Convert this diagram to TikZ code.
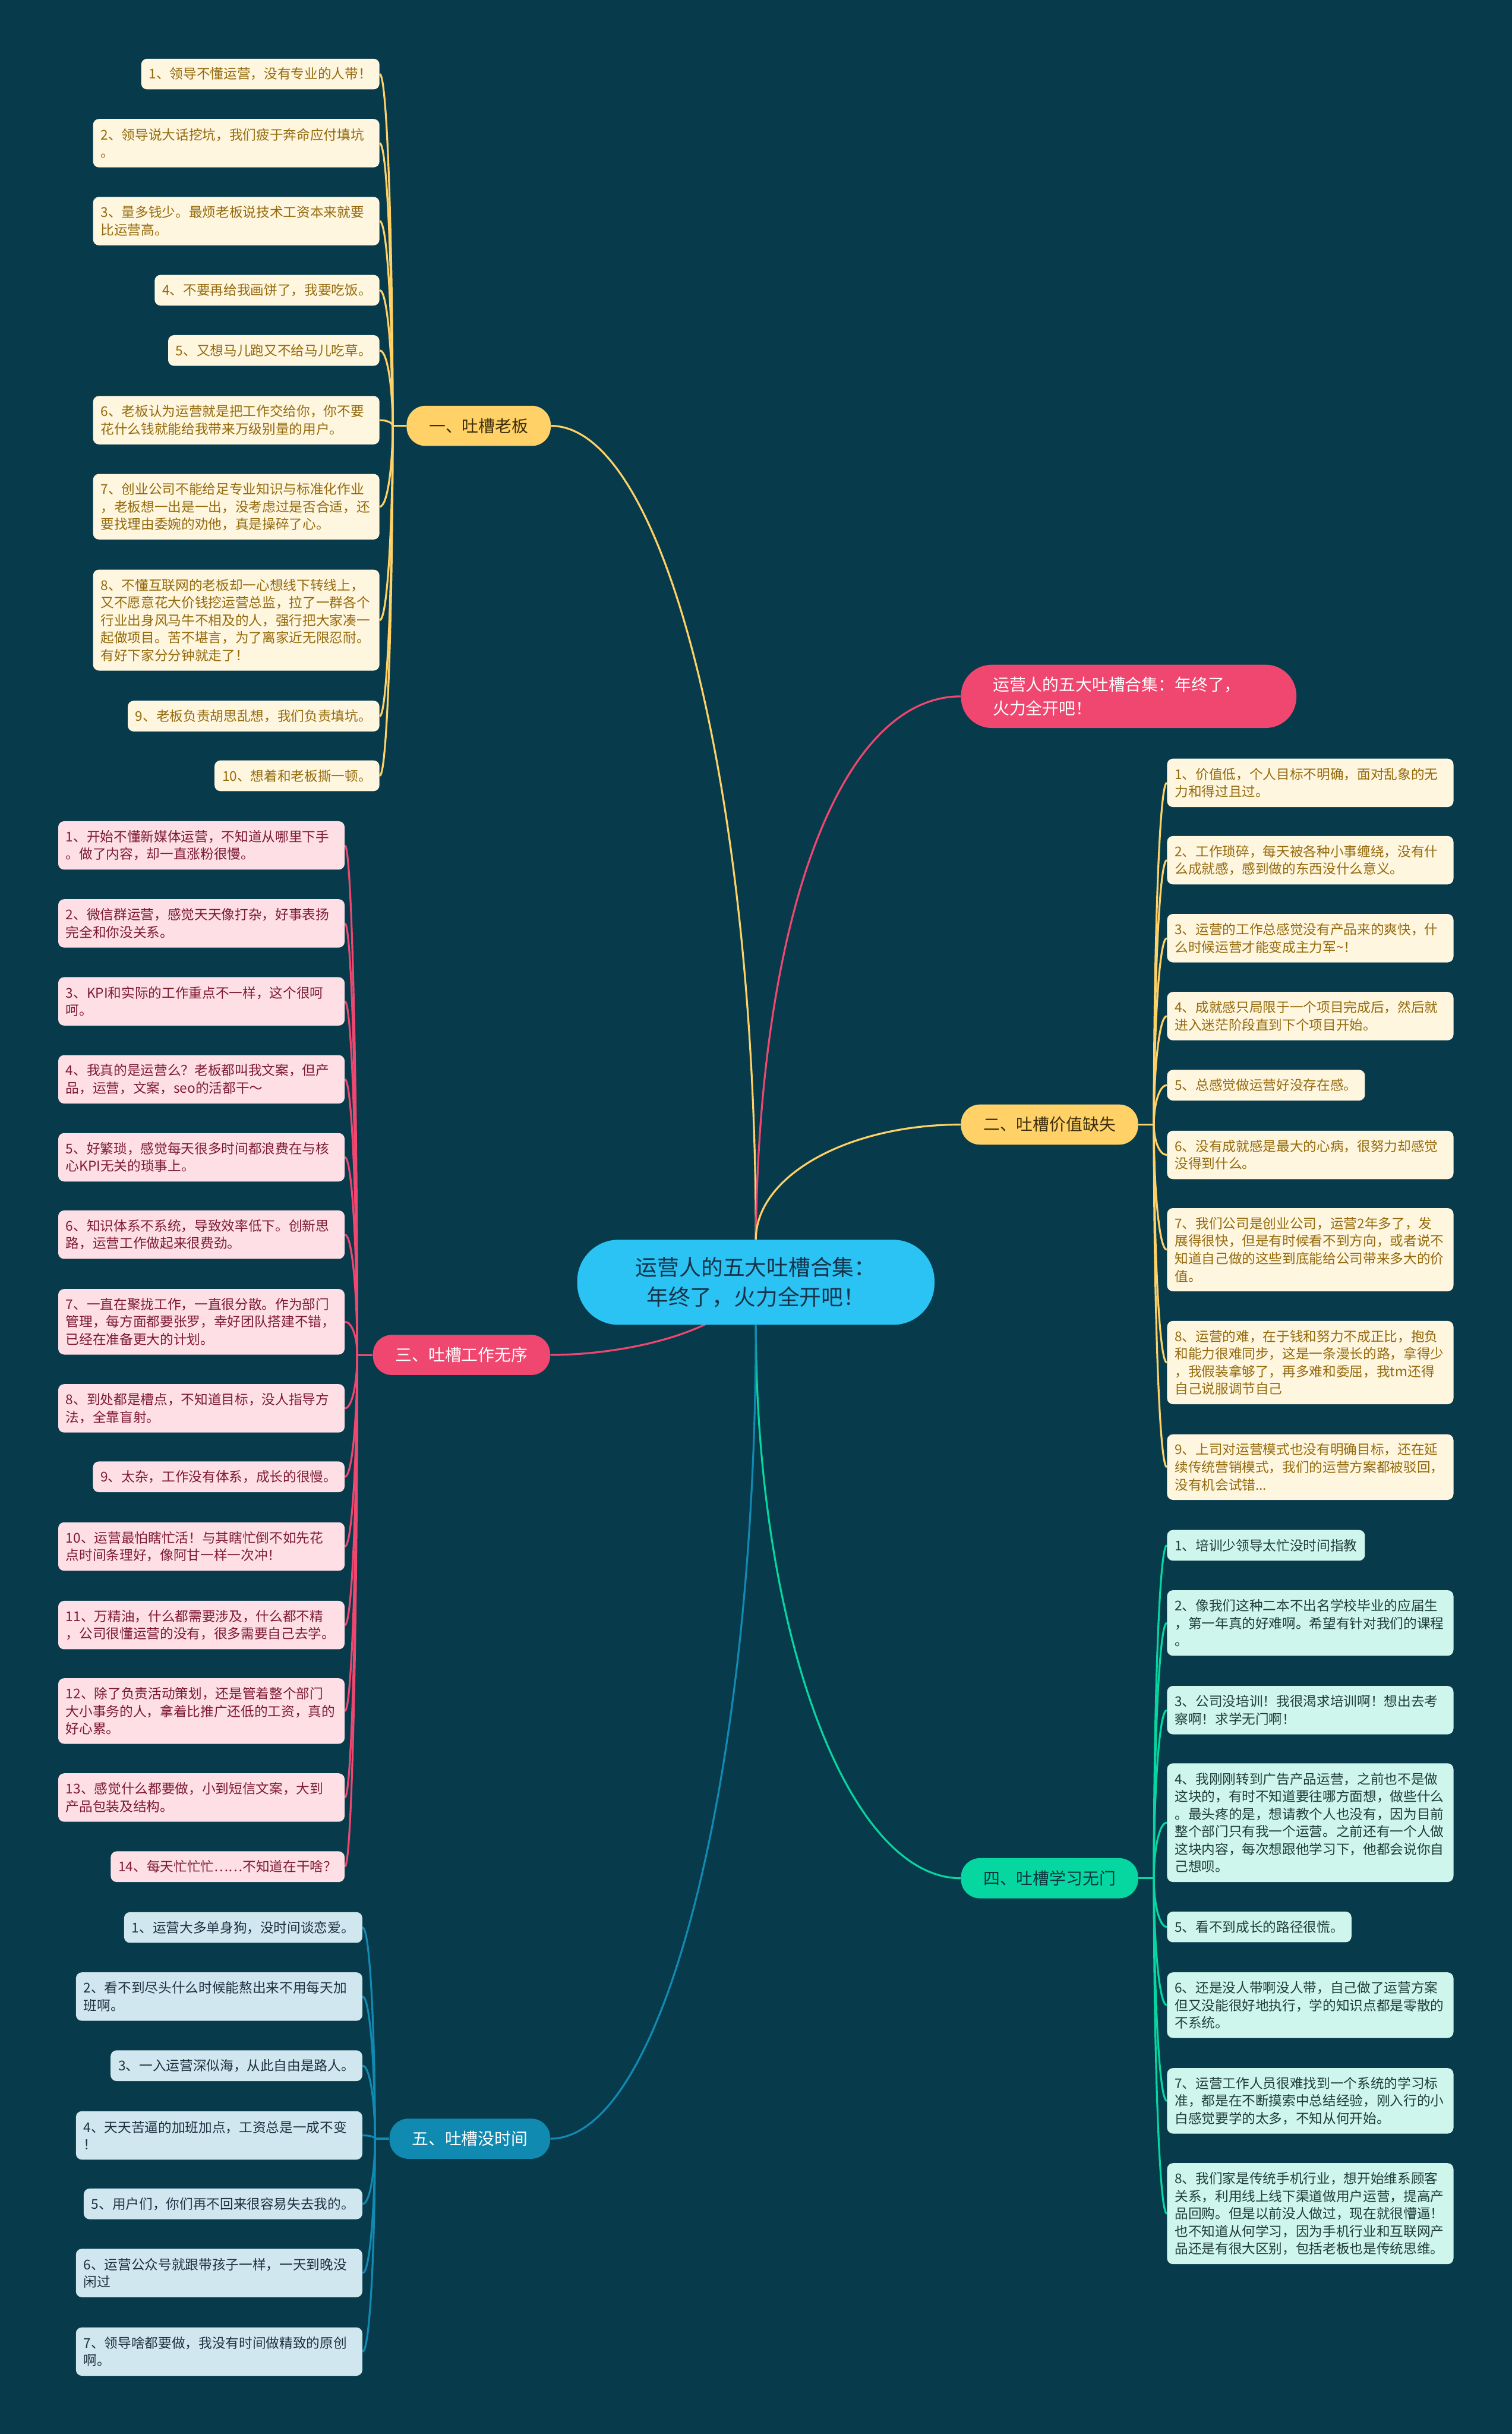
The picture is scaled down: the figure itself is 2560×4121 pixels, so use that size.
\documentclass[tikz,border=0pt]{standalone}
\usepackage{fontspec}
\setmainfont{Noto Sans CJK SC}
\usetikzlibrary{calc}
\pgfdeclarelayer{back}
\pgfdeclarelayer{edges}
\pgfsetlayers{back,edges,main}
\definecolor{bgc}{HTML}{073B4C}
\definecolor{cyel}{HTML}{FFD166}
\definecolor{cpink}{HTML}{EF476F}
\definecolor{cgreen}{HTML}{06D6A0}
\definecolor{cblue}{HTML}{118AB2}
\definecolor{ccenter}{HTML}{2BC3F3}
\definecolor{fyel}{HTML}{FFF6DF}
\definecolor{tyel}{HTML}{946A0C}
\definecolor{fpink}{HTML}{FEDFE6}
\definecolor{tpink}{HTML}{7D1A33}
\definecolor{fgreen}{HTML}{CFF6EC}
\definecolor{tgreen}{HTML}{1F3D3A}
\definecolor{fblue}{HTML}{D0E7EF}
\definecolor{tblue}{HTML}{1E3040}
\definecolor{tdark}{HTML}{3D2F0C}
\definecolor{tgdark}{HTML}{0B3440}
\definecolor{tcenter}{HTML}{173349}
\newcommand\lkL[3]{\draw[#1] (#2.east) .. controls ($(#2.east)!0.6!(#3 |- #2.east)$) and ($(#3 |- #2.east)!0.5!(#3)$) .. (#3);}
\newcommand\lkR[3]{\draw[#1] (#2.west) .. controls ($(#2.west)!0.6!(#3 |- #2.west)$) and ($(#3 |- #2.west)!0.5!(#3)$) .. (#3);}
\tikzset{
  leaf/.style={rectangle, rounded corners=5pt, inner xsep=6.5pt, inner ysep=0pt, align=left, font=\fontsize{11.4pt}{14.85pt}\selectfont},
  multi/.style={text width=229.5pt},
  ln1/.style={minimum height=26pt},
  ln2/.style={minimum height=41pt},
  ln3/.style={minimum height=55.5pt},
  ln4/.style={minimum height=70.5pt},
  ln5/.style={minimum height=85.5pt},
  ln6/.style={minimum height=100.5pt},
  ly/.style={leaf, fill=fyel, text=tyel},
  lp/.style={leaf, fill=fpink, text=tpink},
  lg/.style={leaf, fill=fgreen, text=tgreen},
  lb/.style={leaf, fill=fblue, text=tblue},
  lft/.style={anchor=north east},
  rgt/.style={anchor=north west},
  brnode/.style={rectangle, rounded corners=16pt, minimum height=34pt, inner xsep=19pt, inner ysep=0pt, font=\fontsize{14pt}{17pt}\selectfont}
}
\begin{document}
\begin{tikzpicture}[x=0.5pt, y=-0.5pt]
\begin{pgfonlayer}{back}
\fill[bgc] (0,0) rectangle (2560,4121);
\end{pgfonlayer}
\useasboundingbox (0,0) rectangle (2560,4121);

% center and top
\node[rectangle, rounded corners=35pt, fill=ccenter, text=tcenter, minimum width=302.5pt, minimum height=72pt, align=center, font=\fontsize{18.5pt}{25.5pt}\selectfont] (ctr) at (1280,2171) {运营人的五大吐槽合集：\\年终了，火力全开吧！};
\node[rectangle, rounded corners=26pt, fill=cpink, text=white, text width=230pt, inner xsep=27pt, inner ysep=0pt, minimum height=53.5pt, align=left, font=\fontsize{14pt}{20pt}\selectfont, anchor=west] (top) at (1627,1179) {运营人的五大吐槽合集：年终了，\\火力全开吧！};

% branches
\node[brnode, fill=cyel, text=tdark, anchor=east] (b1) at (933,721) {一、吐槽老板};
\node[brnode, fill=cyel, text=tdark, anchor=west] (b2) at (1627,1904) {二、吐槽价值缺失};
\node[brnode, fill=cpink, text=white, anchor=east] (b3) at (932,2294) {三、吐槽工作无序};
\node[brnode, fill=cgreen, text=tgdark, anchor=west] (b4) at (1627,3180) {四、吐槽学习无门};
\node[brnode, fill=cblue, text=white, anchor=east] (b5) at (932,3621) {五、吐槽没时间};

\coordinate (j1) at (665,721);
\coordinate (j2) at (1954,1904);
\coordinate (j3) at (605,2294);
\coordinate (j4) at (1954,3180);
\coordinate (j5) at (635,3621);

% branch 1
\node[ly,lft,ln1] (a1) at (643,99) {1、领导不懂运营，没有专业的人带！};
\node[ly,lft,ln2,multi] (a2) at (643,201) {2、领导说大话挖坑，我们疲于奔命应付填坑\\。};
\node[ly,lft,ln2,multi] (a3) at (643,333) {3、量多钱少。最烦老板说技术工资本来就要\\比运营高。};
\node[ly,lft,ln1] (a4) at (643,465) {4、不要再给我画饼了，我要吃饭。};
\node[ly,lft,ln1] (a5) at (643,567) {5、又想马儿跑又不给马儿吃草。};
\node[ly,lft,ln2,multi] (a6) at (643,670) {6、老板认为运营就是把工作交给你，你不要\\花什么钱就能给我带来万级别量的用户。};
\node[ly,lft,ln3,multi] (a7) at (643,802) {7、创业公司不能给足专业知识与标准化作业\\，老板想一出是一出，没考虑过是否合适，还\\要找理由委婉的劝他，真是操碎了心。};
\node[ly,lft,ln5,multi] (a8) at (643,964) {8、不懂互联网的老板却一心想线下转线上，\\又不愿意花大价钱挖运营总监，拉了一群各个\\行业出身风马牛不相及的人，强行把大家凑一\\起做项目。苦不堪言，为了离家近无限忍耐。\\有好下家分分钟就走了！};
\node[ly,lft,ln1] (a9) at (643,1186) {9、老板负责胡思乱想，我们负责填坑。};
\node[ly,lft,ln1] (a10) at (643,1287) {10、想着和老板撕一顿。};

% branch 2
\node[ly,rgt,ln2,multi] (c1) at (1976,1284) {1、价值低，个人目标不明确，面对乱象的无\\力和得过且过。};
\node[ly,rgt,ln2,multi] (c2) at (1976,1415) {2、工作琐碎，每天被各种小事缠绕，没有什\\么成就感，感到做的东西没什么意义。};
\node[ly,rgt,ln2,multi] (c3) at (1976,1547) {3、运营的工作总感觉没有产品来的爽快，什\\么时候运营才能变成主力军\textasciitilde！};
\node[ly,rgt,ln2,multi] (c4) at (1976,1679) {4、成就感只局限于一个项目完成后，然后就\\进入迷茫阶段直到下个项目开始。};
\node[ly,rgt,ln1] (c5) at (1976,1811) {5、总感觉做运营好没存在感。};
\node[ly,rgt,ln2,multi] (c6) at (1976,1914) {6、没有成就感是最大的心病，很努力却感觉\\没得到什么。};
\node[ly,rgt,ln4,multi] (c7) at (1976,2045) {7、我们公司是创业公司，运营2年多了，发\\展得很快，但是有时候看不到方向，或者说不\\知道自己做的这些到底能给公司带来多大的价\\值。};
\node[ly,rgt,ln4,multi] (c8) at (1976,2236) {8、运营的难，在于钱和努力不成正比，抱负\\和能力很难同步，这是一条漫长的路，拿得少\\，我假装拿够了，再多难和委屈，我tm还得\\自己说服调节自己};
\node[ly,rgt,ln3,multi] (c9) at (1976,2428) {9、上司对运营模式也没有明确目标，还在延\\续传统营销模式，我们的运营方案都被驳回，\\没有机会试错...};

% branch 3
\node[lp,lft,ln2,multi] (d1) at (584,1390) {1、开始不懂新媒体运营，不知道从哪里下手\\。做了内容，却一直涨粉很慢。};
\node[lp,lft,ln2,multi] (d2) at (584,1522) {2、微信群运营，感觉天天像打杂，好事表扬\\完全和你没关系。};
\node[lp,lft,ln2,multi] (d3) at (584,1654) {3、KPI和实际的工作重点不一样，这个很呵\\呵。};
\node[lp,lft,ln2,multi] (d4) at (584,1786) {4、我真的是运营么？老板都叫我文案，但产\\品，运营，文案，seo的活都干～};
\node[lp,lft,ln2,multi] (d5) at (584,1918) {5、好繁琐，感觉每天很多时间都浪费在与核\\心KPI无关的琐事上。};
\node[lp,lft,ln2,multi] (d6) at (584,2049) {6、知识体系不系统，导致效率低下。创新思\\路，运营工作做起来很费劲。};
\node[lp,lft,ln3,multi] (d7) at (584,2182) {7、一直在聚拢工作，一直很分散。作为部门\\管理，每方面都要张罗，幸好团队搭建不错，\\已经在准备更大的计划。};
\node[lp,lft,ln2,multi] (d8) at (584,2343) {8、到处都是槽点，不知道目标，没人指导方\\法，全靠盲射。};
\node[lp,lft,ln1] (d9) at (584,2474) {9、太杂，工作没有体系，成长的很慢。};
\node[lp,lft,ln2,multi] (d10) at (584,2577) {10、运营最怕瞎忙活！与其瞎忙倒不如先花\\点时间条理好，像阿甘一样一次冲！};
\node[lp,lft,ln2,multi] (d11) at (584,2710) {11、万精油，什么都需要涉及，什么都不精\\，公司很懂运营的没有，很多需要自己去学。};
\node[lp,lft,ln3,multi] (d12) at (584,2841) {12、除了负责活动策划，还是管着整个部门\\大小事务的人，拿着比推广还低的工资，真的\\好心累。};
\node[lp,lft,ln2,multi] (d13) at (584,3002) {13、感觉什么都要做，小到短信文案，大到\\产品包装及结构。};
\node[lp,lft,ln1] (d14) at (584,3134) {14、每天忙忙忙……不知道在干啥？};

% branch 4
\node[lg,rgt,ln1] (e1) at (1976,2590) {1、培训少领导太忙没时间指教};
\node[lg,rgt,ln3,multi] (e2) at (1976,2692) {2、像我们这种二本不出名学校毕业的应届生\\，第一年真的好难啊。希望有针对我们的课程\\。};
\node[lg,rgt,ln2,multi] (e3) at (1976,2854) {3、公司没培训！我很渴求培训啊！想出去考\\察啊！求学无门啊！};
\node[lg,rgt,ln6,multi] (e4) at (1976,2985) {4、我刚刚转到广告产品运营，之前也不是做\\这块的，有时不知道要往哪方面想，做些什么\\。最头疼的是，想请教个人也没有，因为目前\\整个部门只有我一个运营。之前还有一个人做\\这块内容，每次想跟他学习下，他都会说你自\\己想呗。};
\node[lg,rgt,ln1] (e5) at (1976,3236) {5、看不到成长的路径很慌。};
\node[lg,rgt,ln3,multi] (e6) at (1976,3339) {6、还是没人带啊没人带，自己做了运营方案\\但又没能很好地执行，学的知识点都是零散的\\不系统。};
\node[lg,rgt,ln3,multi] (e7) at (1976,3501) {7、运营工作人员很难找到一个系统的学习标\\准，都是在不断摸索中总结经验，刚入行的小\\白感觉要学的太多，不知从何开始。};
\node[lg,rgt,ln5,multi] (e8) at (1976,3662) {8、我们家是传统手机行业，想开始维系顾客\\关系，利用线上线下渠道做用户运营，提高产\\品回购。但是以前没人做过，现在就很懵逼！\\也不知道从何学习，因为手机行业和互联网产\\品还是有很大区别，包括老板也是传统思维。};

% branch 5
\node[lb,lft,ln1] (f1) at (614,3237) {1、运营大多单身狗，没时间谈恋爱。};
\node[lb,lft,ln2,multi] (f2) at (614,3339) {2、看不到尽头什么时候能熬出来不用每天加\\班啊。};
\node[lb,lft,ln1] (f3) at (614,3471) {3、一入运营深似海，从此自由是路人。};
\node[lb,lft,ln2,multi] (f4) at (614,3574) {4、天天苦逼的加班加点，工资总是一成不变\\！};
\node[lb,lft,ln1] (f5) at (614,3705) {5、用户们，你们再不回来很容易失去我的。};
\node[lb,lft,ln2,multi] (f6) at (614,3807) {6、运营公众号就跟带孩子一样，一天到晚没\\闲过};
\node[lb,lft,ln2,multi] (f7) at (614,3940) {7、领导啥都要做，我没有时间做精致的原创\\啊。};

\begin{pgfonlayer}{edges}
\begin{scope}[line width=1.6pt]
\draw[cyel] (ctr.north) .. controls (1280,1338) and (1125,721) .. (b1.east);
\draw[cpink] (ctr.north) .. controls (1285,1560) and (1420,1179) .. (top.west);
\draw[cyel] (ctr.north) .. controls (1280,1991) and (1435,1904) .. (b2.west);
\draw[cpink] (ctr.center) .. controls (1230,2260) and (1050,2294) .. (b3.east);
\draw[cgreen] (ctr.south) .. controls (1280,2760) and (1435,3180) .. (b4.west);
\draw[cblue] (ctr.south) .. controls (1280,3004) and (1124,3621) .. (b5.east);
\draw[cyel] (b1.west) -- (j1);
\draw[cyel] (b2.east) -- (j2);
\draw[cpink] (b3.west) -- (j3);
\draw[cgreen] (b4.east) -- (j4);
\draw[cblue] (b5.west) -- (j5);
\foreach \n in {a1,a2,a3,a4,a5,a6,a7,a8,a9,a10} {\lkL{cyel}{\n}{j1}}
\foreach \n in {c1,c2,c3,c4,c5,c6,c7,c8,c9} {\lkR{cyel}{\n}{j2}}
\foreach \n in {d1,d2,d3,d4,d5,d6,d7,d8,d9,d10,d11,d12,d13,d14} {\lkL{cpink}{\n}{j3}}
\foreach \n in {e1,e2,e3,e4,e5,e6,e7,e8} {\lkR{cgreen}{\n}{j4}}
\foreach \n in {f1,f2,f3,f4,f5,f6,f7} {\lkL{cblue}{\n}{j5}}
\end{scope}
\end{pgfonlayer}
\end{tikzpicture}
\end{document}
